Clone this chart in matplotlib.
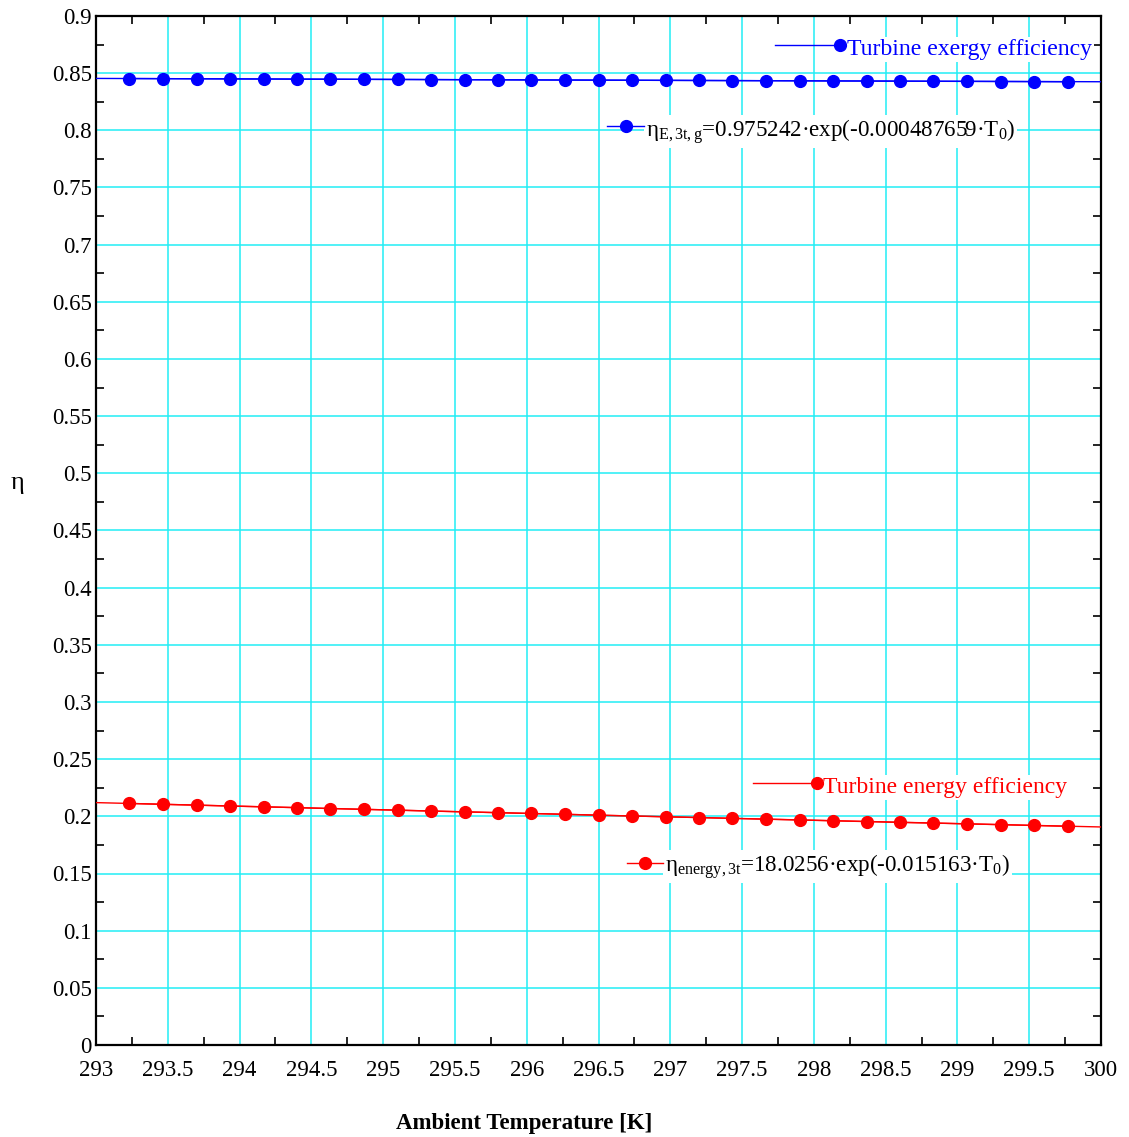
import matplotlib
matplotlib.use("Agg")
import matplotlib.pyplot as plt
from matplotlib.ticker import MultipleLocator

plt.rcParams['font.family'] = ['Liberation Serif', 'DejaVu Serif']
plt.rcParams['mathtext.fontset'] = 'custom'
plt.rcParams['mathtext.rm'] = 'Liberation Serif'
plt.rcParams['mathtext.it'] = 'Liberation Serif:italic'

# ---- data ----
T0 = [293.2333, 293.4667, 293.7, 293.9333, 294.1667, 294.4, 294.6333, 294.8667,
      295.1, 295.3333, 295.5667, 295.8, 296.0333, 296.2667, 296.5, 296.7333,
      296.9667, 297.2, 297.4333, 297.6667, 297.9, 298.1333, 298.3667, 298.6,
      298.8333, 299.0667, 299.3, 299.5333, 299.7667]
eta_exergy = [0.8453, 0.8452, 0.8451, 0.8450, 0.8449, 0.8448, 0.8447, 0.8446,
              0.8445, 0.8444, 0.8443, 0.8442, 0.8441, 0.8440, 0.8439, 0.8438,
              0.8437, 0.8436, 0.8435, 0.8434, 0.8433, 0.8432, 0.8431, 0.8430,
              0.8429, 0.8428, 0.8427, 0.8426, 0.8425]
eta_energy = [0.2113, 0.2105, 0.2098, 0.2090, 0.2083, 0.2076, 0.2068, 0.2061,
              0.2054, 0.2046, 0.2039, 0.2032, 0.2025, 0.2018, 0.2010, 0.2003,
              0.1996, 0.1989, 0.1982, 0.1975, 0.1968, 0.1961, 0.1954, 0.1947,
              0.1941, 0.1934, 0.1927, 0.1920, 0.1913]
fit_T = [293.0, 296.5, 300.0]
fit_exergy = [0.8454, 0.8439, 0.8425]
fit_energy = [0.2120, 0.2010, 0.1907]

lbl_exergy = "Turbine exergy efficiency"
lbl_energy = "Turbine energy efficiency"
eq_exergy = r"η$_{\mathrm{E,3t,g}}$=0.975242·exp(-0.000487659·T$_{\mathrm{0}}$)"
eq_energy = r"η$_{\mathrm{energy,3t}}$=18.0256·exp(-0.015163·T$_{\mathrm{0}}$)"

BLUE = '#0000FF'
RED = '#FF0000'
GRID = '#22EEF5'

W, H = 1129, 1137
fig = plt.figure(figsize=(W / 100, H / 100), dpi=100)
L, R, T, B = 96, 1101, 16, 1045
ax = fig.add_axes([L / W, 1 - B / H, (R - L) / W, (B - T) / H])

ax.set_xlim(293, 300)
ax.set_ylim(0, 0.9)
ax.xaxis.set_major_locator(MultipleLocator(0.5))
ax.xaxis.set_minor_locator(MultipleLocator(0.25))
ax.yaxis.set_major_locator(MultipleLocator(0.05))
ax.yaxis.set_minor_locator(MultipleLocator(0.025))
ax.grid(True, which='major', color=GRID, lw=1.1, zorder=0)
ax.set_axisbelow(True)
ax.tick_params(which='major', length=0, labelsize=16.5, pad=3)
ax.tick_params(axis='x', which='major', pad=11)
ax.tick_params(which='minor', direction='in', length=6, width=1.2,
               top=True, right=True, bottom=True, left=True)
ax.xaxis.set_major_formatter(matplotlib.ticker.FuncFormatter(lambda v, p: f"{v:g}"))
ax.yaxis.set_major_formatter(matplotlib.ticker.FuncFormatter(lambda v, p: f"{v:g}"))
for s in ax.spines.values():
    s.set_linewidth(1.6)

# fit lines and data
ax.plot(fit_T, fit_exergy, color=BLUE, lw=1.0, zorder=3)
ax.plot(fit_T, fit_energy, color=RED, lw=1.0, zorder=3)
ax.plot(T0, eta_exergy, color=BLUE, lw=1.0, marker='o', ms=8.5, zorder=4)
ax.plot(T0, eta_energy, color=RED, lw=1.0, marker='o', ms=8.5, zorder=4)

def fx(px):
    return (px - L) / (R - L)

def fy(py):
    return (B - py) / (B - T)

bbox = dict(facecolor='white', edgecolor='none', pad=1.5)
tr = ax.transAxes

# legend: exergy
ax.plot([fx(775), fx(840)], [fy(45), fy(45)], color=BLUE, lw=1.0, transform=tr, zorder=6)
ax.plot([fx(840)], [fy(45)], color=BLUE, marker='o', ms=8.5, transform=tr, zorder=7)
ax.text(fx(847), fy(55), lbl_exergy, color=BLUE, fontsize=17.1, transform=tr,
        ha='left', va='baseline', bbox=bbox, zorder=5)
# equation: exergy
ax.plot([fx(607), fx(644)], [fy(126), fy(126)], color=BLUE, lw=1.0, transform=tr, zorder=6)
ax.plot([fx(626)], [fy(126)], color=BLUE, marker='o', ms=8.5, transform=tr, zorder=7)
ax.text(fx(646), fy(137), eq_exergy, color='black', fontsize=16.6, transform=tr,
        ha='left', va='baseline', bbox=bbox, zorder=5)

# legend: energy
ax.plot([fx(753), fx(817)], [fy(783), fy(783)], color=RED, lw=1.0, transform=tr, zorder=6)
ax.plot([fx(817)], [fy(783)], color=RED, marker='o', ms=8.5, transform=tr, zorder=7)
ax.text(fx(823), fy(793), lbl_energy, color=RED, fontsize=17.0, transform=tr,
        ha='left', va='baseline', bbox=bbox, zorder=5)
# equation: energy
ax.plot([fx(627), fx(663)], [fy(863), fy(863)], color=RED, lw=1.0, transform=tr, zorder=6)
ax.plot([fx(645)], [fy(863)], color=RED, marker='o', ms=8.5, transform=tr, zorder=7)
ax.text(fx(665), fy(872), eq_energy, color='black', fontsize=16.6, transform=tr,
        ha='left', va='baseline', bbox=bbox, zorder=5)

fig.text(524 / W, 1 - 1123 / H, "Ambient Temperature [K]", fontsize=16.5,
         fontweight='bold', ha='center', va='center')
fig.text(17 / W, 1 - 483 / H, "η", fontsize=19, ha='center', va='center')

fig.savefig("out.png", dpi=100)
